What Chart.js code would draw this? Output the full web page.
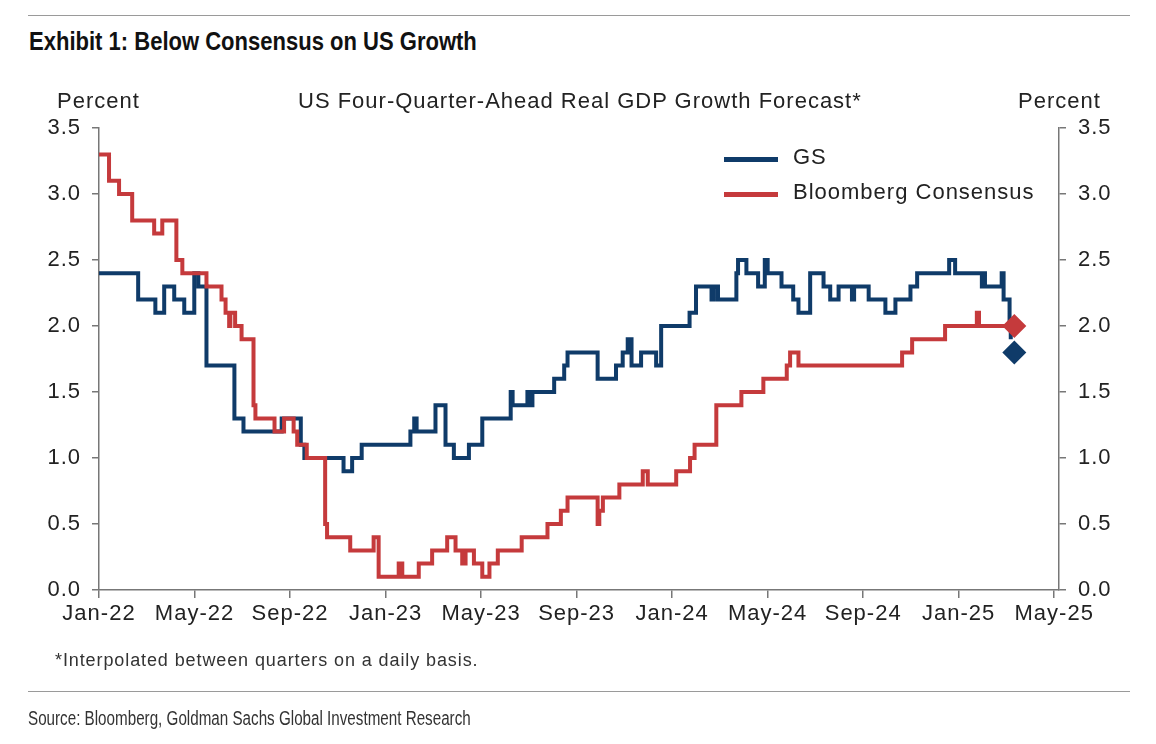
<!DOCTYPE html>
<html>
<head>
<meta charset="utf-8">
<script src="https://cdn.jsdelivr.net/npm/chart.js@4.4.1/dist/chart.umd.min.js"></script>
<style>
  body { margin: 0; background: #fff; }
  #page { position: relative; width: 1156px; height: 744px; overflow: hidden; font-family: "Liberation Sans", Arial, sans-serif; color: #222; }
  #page div { position: absolute; white-space: nowrap; }
  .rule { left: 28px; width: 1102px; height: 0; border-top: 1.5px solid #9a9a9a; }
  .lbl { font-size: 22px; line-height: 22px; letter-spacing: 1px; }
  .narrow { transform-origin: 0 0; }
  #chart { position: absolute; left: 0; top: 0; }
  .legRow { left: 724px; }
  .legLine { position: absolute; left: 0; width: 54px; height: 5px; }
  .legText { position: absolute; left: 69px; top: -11px; font-size: 22px; line-height: 22px; letter-spacing: 1px; }
</style>
</head>
<body>
<div id="page">
  <div class="rule" style="top:15px"></div>
  <div class="narrow" style="left:29px; top:28px; font-weight:bold; font-size:26px; line-height:26px; color:#111; transform:scaleX(0.847)">Exhibit 1: Below Consensus on US Growth</div>
  <canvas id="chart" width="1156" height="744"></canvas>
  <div class="lbl" style="left:57px; top:90px">Percent</div>
  <div class="lbl" style="left:1018px; top:90px">Percent</div>
  <div class="lbl" style="left:298px; top:90px">US Four-Quarter-Ahead Real GDP Growth Forecast*</div>
  <div id="legend"></div>
  <div style="left:55px; top:651px; font-size:18px; line-height:18px; letter-spacing:0.9px; color:#333">*Interpolated between quarters on a daily basis.</div>
  <div class="rule" style="top:691px"></div>
  <div class="narrow" style="left:28px; top:708px; font-size:20px; line-height:20px; color:#333; transform:scaleX(0.76)">Source: Bloomberg, Goldman Sachs Global Investment Research</div>
</div>
<script>
// months since Jan-22 where each forecast changes, and the new value
const gsMonths = [0, 1.64, 2.36, 2.73, 3.15, 3.57, 3.99, 4.16, 4.5, 5.67, 6.05, 7.65, 8.45, 8.6,
  10.24, 10.6, 11.0, 13.04, 13.2, 13.3, 14.09, 14.51, 14.86, 15.49, 16.05, 17.24, 17.32, 17.94, 18.05, 18.15,
  19.06, 19.48, 19.62, 20.88, 21.65, 21.93, 22.14, 22.3, 22.7, 23.33, 23.54, 24.73, 25.0, 25.65, 25.75, 25.92,
  26.69, 26.76, 27.11, 27.6, 27.88, 28.0, 28.58, 29.07, 29.29, 29.78, 30.34, 30.62, 30.97, 31.53, 31.62,
  32.23, 32.93, 33.35, 33.98, 34.26, 35.6, 35.85, 36.97, 37.03, 37.1, 37.8, 37.88, 38.13, 38.18];
const gsValues = [2.4, 2.2, 2.1, 2.3, 2.2, 2.1, 2.4, 2.3, 1.7, 1.3, 1.2, 1.3, 1.1, 1.0,
  0.9, 1.0, 1.1, 1.2, 1.3, 1.2, 1.4, 1.1, 1.0, 1.1, 1.3, 1.5, 1.4, 1.5, 1.4, 1.5,
  1.6, 1.7, 1.8, 1.6, 1.7, 1.8, 1.9, 1.7, 1.8, 1.7, 2.0, 2.1, 2.3, 2.2, 2.3, 2.2,
  2.4, 2.5, 2.4, 2.3, 2.5, 2.4, 2.3, 2.2, 2.1, 2.4, 2.3, 2.2, 2.3, 2.2, 2.3,
  2.2, 2.1, 2.2, 2.3, 2.4, 2.5, 2.4, 2.3, 2.4, 2.3, 2.4, 2.2, 2.0, 1.9];

const bbMonths = [0, 0.42, 0.84, 1.39, 2.31, 2.65, 3.24, 3.49, 4.5, 5.13, 5.3, 5.45, 5.5, 5.7, 5.97,
  6.47, 6.55, 7.35, 7.75, 8.15, 8.3, 8.7, 9.47, 9.55, 10.52, 11.5, 11.71, 12.55, 12.7, 13.39, 13.95,
  14.58, 14.93, 15.21, 15.35, 15.7, 16.05, 16.35, 16.7, 17.7, 18.78, 19.34, 19.62, 20.88, 20.95, 21.1,
  21.79, 22.77, 22.98, 24.17, 24.75, 24.94, 25.85, 26.9, 27.82, 28.8, 28.94, 29.29, 33.63, 34.05,
  35.43, 36.76, 36.85, 38.1];
const bbValues = [3.3, 3.1, 3.0, 2.8, 2.7, 2.8, 2.5, 2.4, 2.3, 2.2, 2.1, 2.0, 2.1, 2.0, 1.9,
  1.4, 1.3, 1.2, 1.3, 1.2, 1.1, 1.0, 0.5, 0.4, 0.3, 0.4, 0.1, 0.2, 0.1, 0.2, 0.3,
  0.4, 0.3, 0.2, 0.3, 0.2, 0.1, 0.2, 0.3, 0.4, 0.5, 0.6, 0.7, 0.5, 0.6, 0.7,
  0.8, 0.9, 0.8, 0.9, 1.0, 1.1, 1.4, 1.5, 1.6, 1.7, 1.8, 1.7, 1.8, 1.9,
  2.0, 2.1, 2.0, 2.0];

// latest forecast markers
const latestMonth = 38.33;
const gsLatest = 1.8;
const bbLatest = 2.0;

const xTickLabels = ['Jan-22', 'May-22', 'Sep-22', 'Jan-23', 'May-23', 'Sep-23', 'Jan-24', 'May-24', 'Sep-24', 'Jan-25', 'May-25'];
const xTickMonths = [0, 4, 8, 12, 16, 20, 24, 28, 32, 36, 40];

const blue = '#0f3b69';
const red = '#c53a3c';
const axisGrey = '#777';

function toPoints(xs, ys) {
  return xs.map((x, i) => ({ x: x, y: ys[i] }));
}

const axisFont = { family: '"Liberation Sans", Arial, sans-serif', size: 22 };

const yAxis = (pos, pad) => ({
  position: pos,
  min: 0, max: 3.5,
  ticks: { stepSize: 0.5, padding: pad, color: '#222', font: axisFont, callback: v => v.toFixed(1) },
  grid: { drawOnChartArea: false, drawTicks: true, tickLength: 7, color: axisGrey, lineWidth: 1.5 },
  border: { color: axisGrey, width: 1.5 },
  afterFit: s => { s.width = pos === 'left' ? 99 : 70; }
});

const letterSpacing = {
  id: 'letterSpacing',
  beforeDraw: chart => { chart.ctx.letterSpacing = '1px'; }
};

const chart = new Chart(document.getElementById('chart'), {
  type: 'line',
  data: {
    datasets: [
      { label: 'Bloomberg latest', data: [{ x: latestMonth, y: bbLatest }], showLine: false,
        pointStyle: 'rectRot', pointRadius: 12, backgroundColor: red, borderColor: red, borderWidth: 0, order: 0, clip: false },
      { label: 'GS latest', data: [{ x: latestMonth, y: gsLatest }], showLine: false,
        pointStyle: 'rectRot', pointRadius: 12, backgroundColor: blue, borderColor: blue, borderWidth: 0, order: 1, clip: false },
      { label: 'GS', data: toPoints(gsMonths, gsValues), stepped: true, borderColor: blue,
        borderWidth: 4, pointRadius: 0, order: 3 },
      { label: 'Bloomberg Consensus', data: toPoints(bbMonths, bbValues), stepped: true, borderColor: red,
        borderWidth: 4, pointRadius: 0, order: 2 }
    ]
  },
  options: {
    responsive: false,
    animation: false,
    events: [],
    layout: { padding: { top: 128, left: 0, right: 1156 - 1059 - 70, bottom: 744 - 590 - 40 } },
    plugins: { legend: { display: false }, tooltip: { enabled: false } },
    scales: {
      x: {
        type: 'linear',
        min: 0, max: 40.2,
        afterBuildTicks: s => { s.ticks = xTickMonths.map(v => ({ value: v })); },
        ticks: { padding: 3, color: '#222', font: axisFont, maxRotation: 0, autoSkip: false,
          callback: v => xTickLabels[xTickMonths.indexOf(v)] },
        grid: { drawOnChartArea: false, drawTicks: true, tickLength: 8, color: axisGrey, lineWidth: 1.5 },
        border: { color: axisGrey, width: 1.5 },
        afterFit: s => { s.height = 40; }
      },
      y: yAxis('left', 11),
      y2: yAxis('right', 12)
    }
  },
  plugins: [letterSpacing]
});

// legend built from the line datasets
const legend = document.getElementById('legend');
['GS', 'Bloomberg Consensus'].forEach((name, i) => {
  const ds = chart.data.datasets.find(d => d.label === name);
  const row = document.createElement('div');
  row.className = 'legRow';
  row.style.top = (157 + i * 35) + 'px';
  row.innerHTML = '<div class="legLine" style="background:' + ds.borderColor + '"></div>' +
    '<div class="legText">' + ds.label + '</div>';
  legend.appendChild(row);
});
</script>
</body>
</html>
